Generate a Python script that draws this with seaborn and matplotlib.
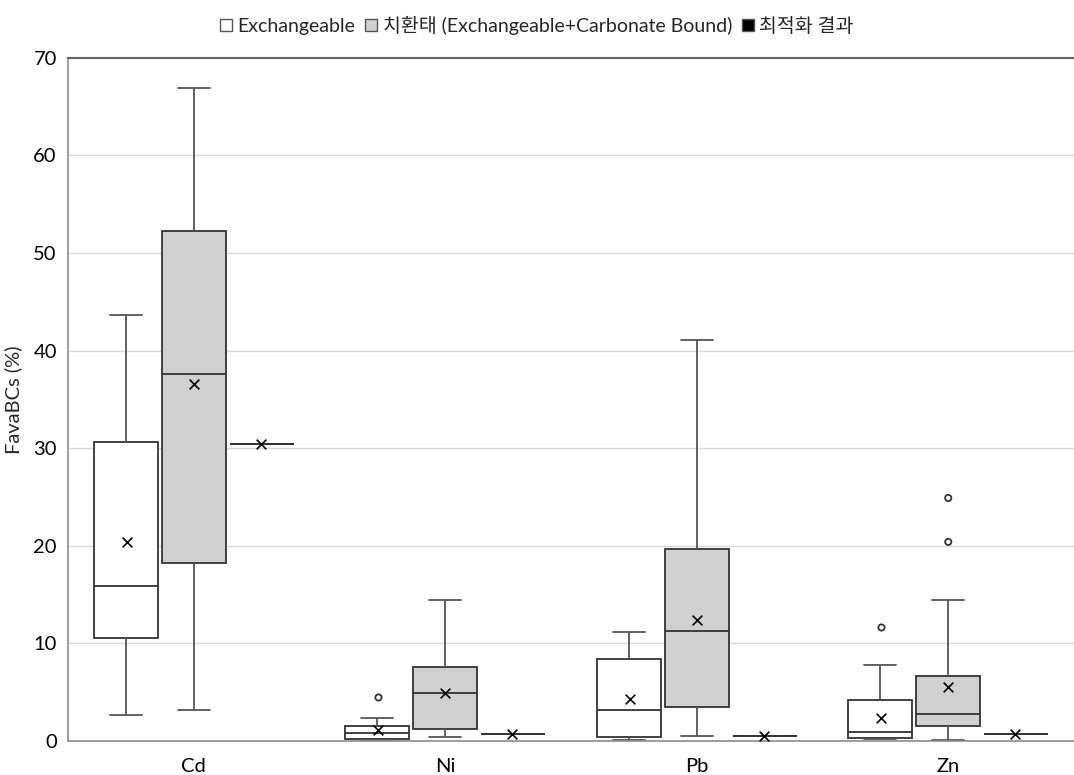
import numpy as np
import pandas as pd
import matplotlib
matplotlib.use("Agg")
import matplotlib.pyplot as plt
import seaborn as sns
from matplotlib.patches import Patch

sns.set_theme(style="white")
plt.rcParams['font.family'] = ['Lato', 'Noto Sans CJK KR', 'DejaVu Sans']

categories = ["Cd", "Ni", "Pb", "Zn"]
groups = ["Exchangeable", "치환태 (Exchangeable+Carbonate Bound)", "최적화 결과"]

# five-number summaries: [whisker low, Q1, median, Q3, whisker high]
exch_stats = [
    [2.7, 10.6, 15.9, 30.6, 43.6],
    [0.1, 0.24, 0.85, 1.57, 2.4],
    [0.1, 0.4, 3.2, 8.4, 11.2],
    [0.25, 0.35, 0.9, 4.2, 7.8],
]
subst_stats = [
    [3.2, 18.2, 37.6, 52.3, 66.9],
    [0.45, 1.2, 4.9, 7.6, 14.4],
    [0.5, 3.5, 11.3, 19.7, 41.1],
    [0.15, 1.5, 2.8, 6.7, 14.4],
]
optimal_values = [30.4, 0.75, 0.5, 0.7]

exch_means = [20.4, 1.1, 4.3, 2.4]
subst_means = [36.6, 4.9, 12.4, 5.5]
optimal_means = [30.4, 0.75, 0.5, 0.7]

exch_outliers = {"Ni": [4.5], "Zn": [11.7]}
subst_outliers = {"Zn": [20.4, 24.9]}

# build long-form tables
rows = []
for i, c in enumerate(categories):
    for v in exch_stats[i]:
        rows.append((c, groups[0], v))
    for v in subst_stats[i]:
        rows.append((c, groups[1], v))
    for _ in range(5):
        rows.append((c, groups[2], optimal_values[i]))
box_df = pd.DataFrame(rows, columns=["cat", "grp", "val"])

mrows = []
for i, c in enumerate(categories):
    mrows.append((c, groups[0], exch_means[i]))
    mrows.append((c, groups[1], subst_means[i]))
    mrows.append((c, groups[2], optimal_means[i]))
mean_df = pd.DataFrame(mrows, columns=["cat", "grp", "val"])

orows = []
for c, vals in exch_outliers.items():
    for v in vals:
        orows.append((c, groups[0], v))
for c, vals in subst_outliers.items():
    for v in vals:
        orows.append((c, groups[1], v))
out_df = pd.DataFrame(orows, columns=["cat", "grp", "val"])

fills = {groups[0]: "#ffffff", groups[1]: "#d0d0d0", groups[2]: "#000000"}
blacks = {g: "#000000" for g in groups}
whites = {g: "#ffffff" for g in groups}

fig = plt.figure(figsize=(10.74, 7.75), dpi=100)
ax = fig.add_axes([0.0633, 0.0439, 0.9367, 0.8815])

sns.boxplot(data=box_df, x="cat", y="val", hue="grp", order=categories,
            hue_order=groups, palette=fills, width=0.81, gap=0.06,
            whis=np.inf, linecolor="#333333", linewidth=1.3, saturation=1,
            showfliers=False, legend=False, ax=ax,
            whiskerprops=dict(color="#555555"), capprops=dict(color="#555555"))

sns.stripplot(data=mean_df, x="cat", y="val", hue="grp", order=categories,
              hue_order=groups, palette=blacks, dodge=True, jitter=False,
              marker="x", s=7, linewidth=1.2, legend=False, ax=ax)

sns.stripplot(data=out_df, x="cat", y="val", hue="grp", order=categories,
              hue_order=groups, palette=whites, dodge=True, jitter=False,
              marker="o", s=4.5, edgecolor="#333333",
              linewidth=1.3, legend=False, ax=ax)

ax.set_ylim(0, 70)
ax.set_xlim(-0.5, 3.5)
ax.set_yticks(np.arange(0, 71, 10))
ax.yaxis.grid(True, color="#d9d9d9", linewidth=1)
ax.set_axisbelow(True)
ax.tick_params(axis="both", length=0, labelsize=14.5, colors="#000000", pad=8)
ax.tick_params(axis="x", pad=12)
ax.set_xlabel("")
ax.set_ylabel("FavaBCs (%)", fontsize=14.5, labelpad=8)

for s in ["left", "bottom"]:
    ax.spines[s].set_color("#8c8c8c")
    ax.spines[s].set_linewidth(1.2)
ax.spines["top"].set_color("#666666")
ax.spines["top"].set_linewidth(1.5)
ax.spines["right"].set_visible(False)

handles = [Patch(facecolor=fills[g], edgecolor="#555555", linewidth=1) for g in groups]
fig.legend(handles, groups, loc="upper center", bbox_to_anchor=(0.5, 1.0),
           ncol=3, frameon=False, fontsize=14, handlelength=0.6,
           handleheight=0.6, handletextpad=0.3, columnspacing=0.5,
           borderaxespad=0.4)

fig.savefig("out.png", dpi=100)
